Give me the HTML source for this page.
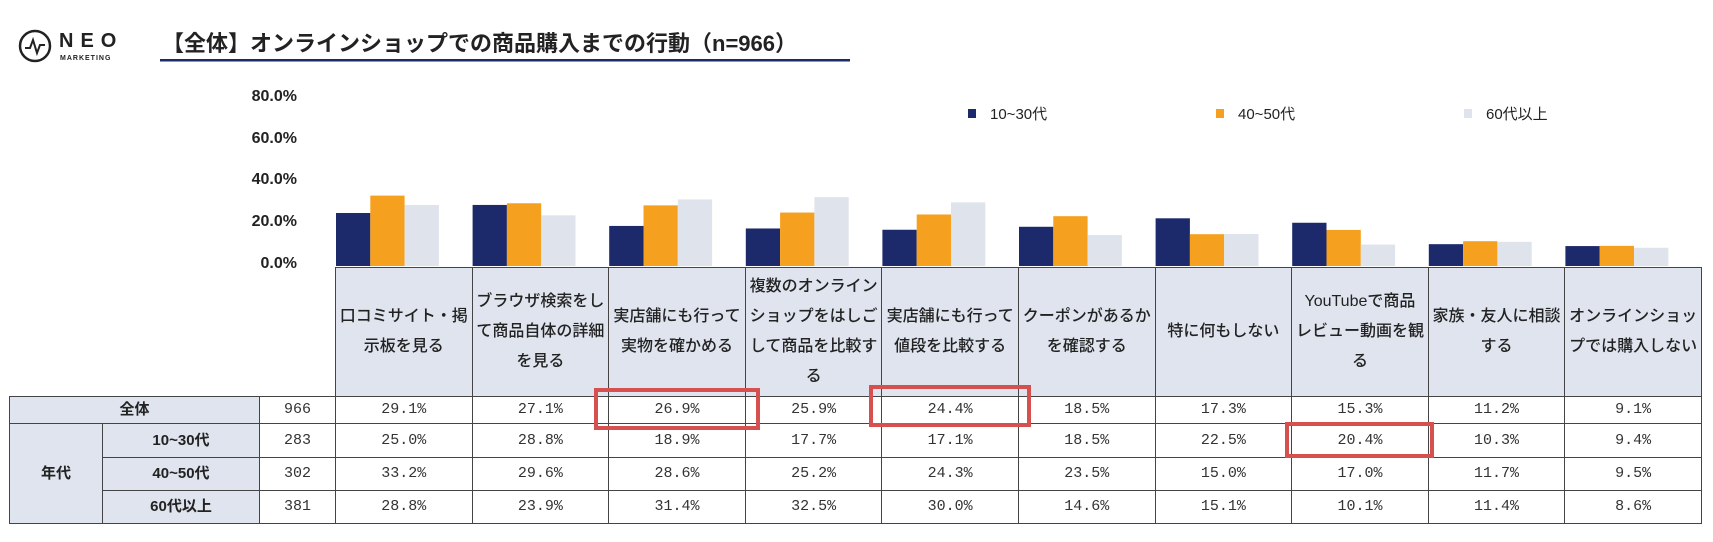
<!DOCTYPE html>
<html><head><meta charset="utf-8"><style>
body{margin:0;width:1713px;height:542px;background:#fff;position:relative;overflow:hidden;font-family:"Liberation Sans","Noto Sans CJK JP",sans-serif;color:#222}
.a{position:absolute}
table{position:absolute;left:9px;top:267px;border-collapse:collapse;table-layout:fixed}
td{border:1.5px solid #444;padding:0;text-align:center;font-size:15px;line-height:18px}
td.h{background:#dfe4ee;font-size:16px;line-height:30px;color:#222;font-weight:500}
td.l{background:#dfe4ee;font-weight:bold;font-size:15px}
td.v{font-family:"Liberation Mono","Noto Serif CJK SC",monospace;font-size:15px;color:#333}
td.e{border:none;background:none}
.yl{position:absolute;right:1416px;font-weight:bold;font-size:16px;color:#222}
.rb{position:absolute;border:4px solid #d5504f;box-sizing:border-box}
</style></head><body>
<svg class="a" style="left:0;top:0" width="1713" height="542">
<circle cx="35" cy="46" r="15" fill="none" stroke="#222" stroke-width="2.5"/>
<polyline points="25,48 30,48 33,40 37,53 40,45 45,45" fill="none" stroke="#222" stroke-width="2"/>
<text x="59" y="47" font-family="Liberation Sans" font-weight="bold" font-size="20" letter-spacing="7" fill="#222">NEO</text>
<text x="60" y="60" font-family="Liberation Sans" font-weight="bold" font-size="7" letter-spacing="1" fill="#222">MARKETING</text>
<rect x="160" y="59" width="690" height="2.5" fill="#1c2a6b"/>
<g id="bars"></g>
<rect x="968" y="109" width="8" height="9" fill="#1c2a6b"/>
<rect x="1216" y="109" width="8" height="9" fill="#f5a01e"/>
<rect x="1464" y="109" width="8" height="9" fill="#dfe3ec"/>
<text x="990" y="119" font-size="15" font-family="Liberation Sans,Noto Sans CJK JP,sans-serif" fill="#222">10~30代</text>
<text x="1238" y="119" font-size="15" font-family="Liberation Sans,Noto Sans CJK JP,sans-serif" fill="#222">40~50代</text>
<text x="1486" y="119" font-size="15" font-family="Liberation Sans,Noto Sans CJK JP,sans-serif" fill="#222">60代以上</text>
</svg>
<div class="a" style="left:162px;top:26px;font-size:22px;font-weight:bold;white-space:nowrap">【全体】オンラインショップでの商品購入までの行動（n=966）</div>
<div class="yl" style="top:88px">80.0%</div>
<div class="yl" style="top:130px">60.0%</div>
<div class="yl" style="top:171px">40.0%</div>
<div class="yl" style="top:213px">20.0%</div>
<div class="yl" style="top:255px">0.0%</div>
<table>
<colgroup><col style="width:93px"><col style="width:157px"><col style="width:76px"><col span="10" style="width:136.6px"></colgroup>
<tr style="height:129px"><td class="e"></td><td class="e"></td><td class="e" style="border-right:1.5px solid #444"></td>
<td class="h">口コミサイト・掲<br>示板を見る</td><td class="h">ブラウザ検索をし<br>て商品自体の詳細<br>を見る</td><td class="h">実店舗にも行って<br>実物を確かめる</td><td class="h">複数のオンライン<br>ショップをはしご<br>して商品を比較す<br>る</td><td class="h">実店舗にも行って<br>値段を比較する</td><td class="h">クーポンがあるか<br>を確認する</td><td class="h">特に何もしない</td><td class="h">YouTubeで商品<br>レビュー動画を観<br>る</td><td class="h">家族・友人に相談<br>する</td><td class="h">オンラインショッ<br>プでは購入しない</td></tr>
<tr style="height:27px"><td class="l" colspan="2">全体</td><td class="v">966</td><td class="v">29.1%</td><td class="v">27.1%</td><td class="v">26.9%</td><td class="v">25.9%</td><td class="v">24.4%</td><td class="v">18.5%</td><td class="v">17.3%</td><td class="v">15.3%</td><td class="v">11.2%</td><td class="v">9.1%</td></tr>
<tr style="height:34px"><td class="l" rowspan="3">年代</td><td class="l">10~30代</td><td class="v">283</td><td class="v">25.0%</td><td class="v">28.8%</td><td class="v">18.9%</td><td class="v">17.7%</td><td class="v">17.1%</td><td class="v">18.5%</td><td class="v">22.5%</td><td class="v">20.4%</td><td class="v">10.3%</td><td class="v">9.4%</td></tr>
<tr style="height:33px"><td class="l">40~50代</td><td class="v">302</td><td class="v">33.2%</td><td class="v">29.6%</td><td class="v">28.6%</td><td class="v">25.2%</td><td class="v">24.3%</td><td class="v">23.5%</td><td class="v">15.0%</td><td class="v">17.0%</td><td class="v">11.7%</td><td class="v">9.5%</td></tr>
<tr style="height:33px"><td class="l">60代以上</td><td class="v">381</td><td class="v">28.8%</td><td class="v">23.9%</td><td class="v">31.4%</td><td class="v">32.5%</td><td class="v">30.0%</td><td class="v">14.6%</td><td class="v">15.1%</td><td class="v">10.1%</td><td class="v">11.4%</td><td class="v">8.6%</td></tr>
</table>
<div class="rb" style="left:594px;top:388px;width:166px;height:42px"></div>
<div class="rb" style="left:869px;top:385px;width:162px;height:42px"></div>
<div class="rb" style="left:1285px;top:422px;width:149px;height:36px"></div>
<script>
var d=[[25.0,33.2,28.8],[28.8,29.6,23.9],[18.9,28.6,31.4],[17.7,25.2,32.5],[17.1,24.3,30.0],[18.5,23.5,14.6],[22.5,15.0,15.1],[20.4,17.0,10.1],[10.3,11.7,11.4],[9.4,9.5,8.6]];
var c=["#1c2a6b","#f5a01e","#dfe3ec"],s="";
for(var i=0;i<10;i++)for(var j=0;j<3;j++){var h=d[i][j]*2.12,x=336+i*136.6+j*34.3;
s+='<rect x="'+x+'" y="'+(266-h)+'" width="34.3" height="'+h+'" fill="'+c[j]+'"/>';}
document.getElementById("bars").innerHTML=s;
</script>
</body></html>
